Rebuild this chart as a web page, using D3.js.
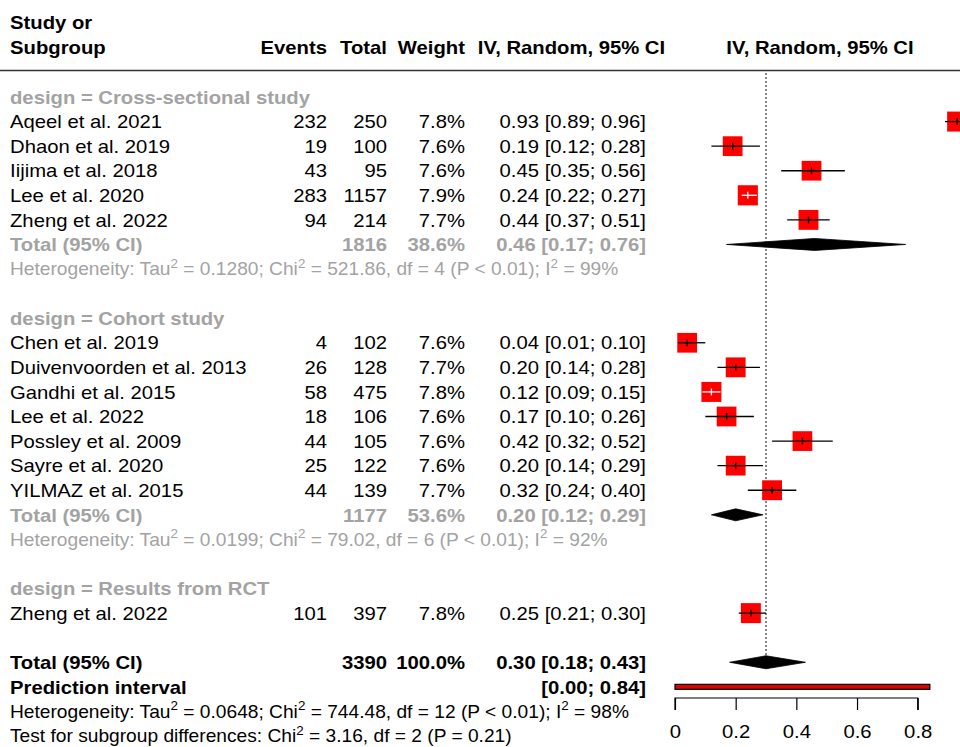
<!DOCTYPE html>
<html>
<head>
<meta charset="utf-8">
<script src="https://cdn.jsdelivr.net/npm/d3@7"></script>
<style>
  html, body { margin: 0; padding: 0; background: #fff; }
  svg { display: block; font-family: "Liberation Sans", Arial, sans-serif; }
</style>
</head>
<body>
<svg id="chart" width="960" height="747"></svg>
<script>
// ---- study-level data ----
const studyNames = [
  "Aqeel et al. 2021", "Dhaon et al. 2019", "Iijima et al. 2018", "Lee et al. 2020", "Zheng et al. 2022",
  "Chen et al. 2019", "Duivenvoorden et al. 2013", "Gandhi et al. 2015", "Lee et al. 2022",
  "Possley et al. 2009", "Sayre et al. 2020", "YILMAZ et al. 2015",
  "Zheng et al. 2022"
];
const studyGroup = [0, 0, 0, 0, 0, 1, 1, 1, 1, 1, 1, 1, 2];
const studyEvents = [232, 19, 43, 283, 94, 4, 26, 58, 18, 44, 25, 44, 101];
const studyTotals = [250, 100, 95, 1157, 214, 102, 128, 475, 106, 105, 122, 139, 397];
const studyWeights = [7.8, 7.6, 7.6, 7.9, 7.7, 7.6, 7.7, 7.8, 7.6, 7.6, 7.6, 7.7, 7.8];
const studyEst = [0.93, 0.19, 0.45, 0.24, 0.44, 0.04, 0.20, 0.12, 0.17, 0.42, 0.20, 0.32, 0.25];
const studyLower = [0.89, 0.12, 0.35, 0.22, 0.37, 0.01, 0.14, 0.09, 0.10, 0.32, 0.14, 0.24, 0.21];
const studyUpper = [0.96, 0.28, 0.56, 0.27, 0.51, 0.10, 0.28, 0.15, 0.26, 0.52, 0.29, 0.40, 0.30];

// ---- subgroup data ----
const groupLabels = ["design = Cross-sectional study", "design = Cohort study", "design = Results from RCT"];
const groupTotals = [1816, 1177, null];
const groupWeights = [38.6, 53.6, null];
const groupEst = [0.46, 0.20, null];
const groupLower = [0.17, 0.12, null];
const groupUpper = [0.76, 0.29, null];
const groupHet = [
  { tau2: "0.1280", chi2: "521.86", df: 4, p: "P < 0.01", i2: "99%" },
  { tau2: "0.0199", chi2: "79.02", df: 6, p: "P < 0.01", i2: "92%" },
  null
];

// ---- overall results ----
const overallTotal = 3390;
const overallWeight = 100.0;
const overallEst = 0.30, overallLower = 0.18, overallUpper = 0.43;
const predLower = 0.00, predUpper = 0.84;
const overallHet = { tau2: "0.0648", chi2: "744.48", df: 12, p: "P < 0.01", i2: "98%" };
const subgroupTest = { chi2: "3.16", df: 2, p: "P = 0.21" };

const axisTicks = [0, 0.2, 0.4, 0.6, 0.8];

// ---- layout ----
const svg = d3.select("#chart");
const W = 960, H = 747;
const FS = 18.6;      // main text size
const FS_HET = 17.6;  // statistics lines
const SX = 1.09;      // horizontal glyph stretch
const GREY = "#a3a3a3";
const xCol = { name: 10, events: 327, total: 387, weight: 465, ci: 646, ciHead: 571.5 };

const x = d3.scaleLinear().domain([0, 0.8]).range([675, 917.7]);

// build the row sequence
const rows = [];
groupLabels.forEach((lab, g) => {
  rows.push({ type: "group", g });
  studyNames.forEach((n, i) => { if (studyGroup[i] === g) rows.push({ type: "study", i }); });
  if (groupEst[g] !== null) {
    rows.push({ type: "gtotal", g });
    rows.push({ type: "ghet", g });
  }
  rows.push({ type: "blank" });
});
rows.push({ type: "total" });
rows.push({ type: "pred" });
rows.push({ type: "het" });
rows.push({ type: "test" });

const y = d3.scalePoint().domain(d3.range(rows.length)).range([97, 736]);

const fmt2 = d3.format(".2f");
const ciText = (e, l, u) => `${fmt2(e)} [${fmt2(l)}; ${fmt2(u)}]`;

const gText = svg.append("g");

function txt(xp, yp, s, opts = {}) {
  return gText.append("text")
    .attr("transform", `translate(${xp},${yp}) scale(${SX},1)`)
    .attr("dy", "0.36em")
    .attr("font-size", opts.size || FS)
    .attr("text-anchor", opts.anchor || "start")
    .attr("font-weight", opts.bold ? "bold" : null)
    .attr("fill", opts.fill || "#000")
    .text(s);
}

// statistic line with superscript exponents
function statLine(xp, yp, parts, fill) {
  const size = FS_HET;
  const rise = size * 0.42;
  const t = gText.append("text")
    .attr("transform", `translate(${xp},${yp}) scale(${SX},1)`)
    .attr("dy", "0.36em").attr("fill", fill).attr("font-size", size);
  let raised = false;
  parts.forEach(p => {
    if (typeof p === "string") {
      const ts = t.append("tspan").text(p);
      if (raised) { ts.attr("dy", rise); raised = false; }
    } else {
      t.append("tspan").attr("font-size", size * 0.7).attr("dy", -rise).text(p.sup);
      raised = true;
    }
  });
  return t;
}

function hetParts(h) {
  return ["Heterogeneity: Tau", { sup: "2" }, ` = ${h.tau2}; Chi`, { sup: "2" },
    ` = ${h.chi2}, df = ${h.df} (${h.p}); I`, { sup: "2" }, ` = ${h.i2}`];
}

// ---- header ----
txt(10, 22, "Study or", { bold: true });
txt(10, 47, "Subgroup", { bold: true });
txt(xCol.events, 47, "Events", { bold: true, anchor: "end" });
txt(xCol.total, 47, "Total", { bold: true, anchor: "end" });
txt(xCol.weight, 47, "Weight", { bold: true, anchor: "end" });
txt(xCol.ciHead, 47, "IV, Random, 95% CI", { bold: true, anchor: "middle" });
txt(820, 47, "IV, Random, 95% CI", { bold: true, anchor: "middle" });
svg.append("line").attr("x1", 0).attr("x2", W).attr("y1", 70.5).attr("y2", 70.5)
  .attr("stroke", "#333").attr("stroke-width", 1.4);

// ---- reference line at the overall estimate ----
const plot = svg.append("g");
const totalRowIdx = rows.findIndex(r => r.type === "total");
plot.append("line")
  .attr("x1", x(overallEst)).attr("x2", x(overallEst))
  .attr("y1", 73).attr("y2", y(totalRowIdx))
  .attr("stroke", "#222").attr("stroke-width", 1.1).attr("stroke-dasharray", "2,2");

const sq = w => 20 * Math.sqrt(w / 7.8);

function diamond(yc, lo, est, hi, h) {
  plot.append("path")
    .attr("d", `M${x(lo)},${yc} L${x(est)},${yc - h / 2} L${x(hi)},${yc} L${x(est)},${yc + h / 2} Z`)
    .attr("fill", "#000").attr("stroke", "#000").attr("stroke-width", 0.8);
}

rows.forEach((r, k) => {
  const yc = y(k);
  if (r.type === "group") {
    txt(xCol.name, yc, groupLabels[r.g], { bold: true, fill: GREY });
  } else if (r.type === "study") {
    const i = r.i;
    txt(xCol.name, yc, studyNames[i]);
    txt(xCol.events, yc, studyEvents[i], { anchor: "end" });
    txt(xCol.total, yc, studyTotals[i], { anchor: "end" });
    txt(xCol.weight, yc, `${studyWeights[i].toFixed(1)}%`, { anchor: "end" });
    txt(xCol.ci, yc, ciText(studyEst[i], studyLower[i], studyUpper[i]), { anchor: "end" });

    const s = sq(studyWeights[i]);
    const cx = x(studyEst[i]);
    plot.append("rect").attr("x", cx - s / 2).attr("y", yc - s / 2)
      .attr("width", s).attr("height", s).attr("fill", "#ff0000");
    // the interval is drawn white where it lies wholly inside its square
    const inside = x(studyLower[i]) > cx - s / 2 && x(studyUpper[i]) < cx + s / 2;
    const col = inside ? "#fff" : "#000";
    plot.append("line").attr("x1", x(studyLower[i])).attr("x2", x(studyUpper[i]))
      .attr("y1", yc).attr("y2", yc).attr("stroke", col).attr("stroke-width", 1.3);
    plot.append("line").attr("x1", cx).attr("x2", cx)
      .attr("y1", yc - 3.5).attr("y2", yc + 3.5).attr("stroke", col).attr("stroke-width", 1.3);
  } else if (r.type === "gtotal") {
    const g = r.g;
    txt(xCol.name, yc, "Total (95% CI)", { bold: true, fill: GREY });
    txt(xCol.total, yc, groupTotals[g], { bold: true, fill: GREY, anchor: "end" });
    txt(xCol.weight, yc, `${groupWeights[g].toFixed(1)}%`, { bold: true, fill: GREY, anchor: "end" });
    txt(xCol.ci, yc, ciText(groupEst[g], groupLower[g], groupUpper[g]), { bold: true, fill: GREY, anchor: "end" });
    diamond(yc, groupLower[g], groupEst[g], groupUpper[g], 12);
  } else if (r.type === "ghet") {
    statLine(xCol.name, yc, hetParts(groupHet[r.g]), GREY);
  } else if (r.type === "total") {
    txt(xCol.name, yc, "Total (95% CI)", { bold: true });
    txt(xCol.total, yc, overallTotal, { bold: true, anchor: "end" });
    txt(xCol.weight, yc, `${overallWeight.toFixed(1)}%`, { bold: true, anchor: "end" });
    txt(xCol.ci, yc, ciText(overallEst, overallLower, overallUpper), { bold: true, anchor: "end" });
    diamond(yc, overallLower, overallEst, overallUpper, 13);
  } else if (r.type === "pred") {
    txt(xCol.name, yc, "Prediction interval", { bold: true });
    txt(xCol.ci, yc, `[${fmt2(predLower)}; ${fmt2(predUpper)}]`, { bold: true, anchor: "end" });
    plot.append("rect").attr("x", x(predLower)).attr("y", yc - 2.5)
      .attr("width", x(predUpper) - x(predLower)).attr("height", 5)
      .attr("fill", "#e00000").attr("stroke", "#000").attr("stroke-width", 1.2);
  } else if (r.type === "het") {
    statLine(xCol.name, yc, hetParts(overallHet), "#000");
  } else if (r.type === "test") {
    statLine(xCol.name, yc, ["Test for subgroup differences: Chi", { sup: "2" },
      ` = ${subgroupTest.chi2}, df = ${subgroupTest.df} (${subgroupTest.p})`], "#000");
  }
});

// ---- x axis ----
const axis = d3.axisBottom(x).tickValues(axisTicks).tickSize(12).tickPadding(15)
  .tickFormat(d => d === 0 ? "0" : d3.format(".1f")(d));
const gAxis = svg.append("g").attr("transform", "translate(0,698)").call(axis);
gAxis.select(".domain").attr("stroke", "#000").attr("stroke-width", 1.2)
  .attr("d", `M${x(0)},12V0H${x(0.8)}V12`);
gAxis.selectAll(".tick line").attr("stroke", "#000").attr("stroke-width", 1.2);
gAxis.selectAll(".tick text")
  .attr("font-size", FS).attr("fill", "#000")
  .attr("font-family", "Liberation Sans, Arial, sans-serif")
  .attr("transform", `scale(${SX},1)`);
</script>
</body>
</html>
